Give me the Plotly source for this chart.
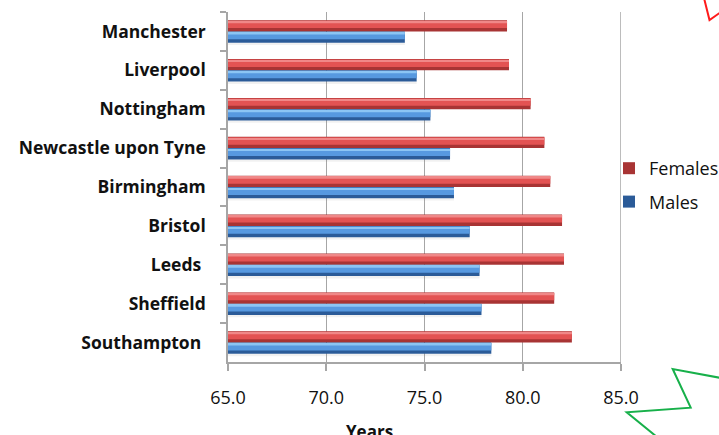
import plotly.graph_objects as go

# Life expectancy at birth by city (years)
cities = ["Manchester", "Liverpool", "Nottingham", "Newcastle upon Tyne",
          "Birmingham", "Bristol", "Leeds\u00a0", "Sheffield", "Southampton\u00a0"]
females = [79.2, 79.3, 80.4, 81.1, 81.4, 82.0, 82.1, 81.6, 82.5]
males = [74.0, 74.6, 75.3, 76.3, 76.5, 77.3, 77.8, 77.9, 78.4]
x_ticks = [65, 70, 75, 80, 85]
x_tick_labels = ["65.0", "70.0", "75.0", "80.0", "85.0"]

W, H = 719, 435
L, R, T, B = 228, 98, 12, 73
PW, PH = W - L - R, H - T - B


def px(x, y):
    """Pixel position on the page -> paper coordinates."""
    return (x - L) / PW, (H - B - y) / PH


fig = go.Figure()

BAR = 0.29  # thickness of one bar, in category units


def bevel_bar(name, values, top, colors, legend):
    """Draw a bar as stacked bands so it reads as a rounded, lit bar."""
    dark, mid, light = colors
    bands = [
        (top, BAR, dark),
        (top + 0.012, BAR * 0.66, mid),
        (top + 0.03, BAR * 0.16, light),
    ]
    for i, (off, w, c) in enumerate(bands):
        fig.add_trace(go.Bar(
            y=cities, x=values, base=65, orientation="h",
            offset=off, width=w,
            marker=dict(color=c, line=dict(width=0)),
            name=name, legendgroup=name,
            showlegend=(legend and i == 0),
            hoverinfo="skip" if i else None,
        ))


# soft shadow under each male bar
fig.add_trace(go.Bar(
    y=cities, x=[v - 65 for v in males], base=65, orientation="h",
    offset=BAR, width=0.06,
    marker=dict(color="rgba(120,120,120,0.10)", line=dict(width=0)),
    showlegend=False, hoverinfo="skip",
))

bevel_bar("Females", [v - 65 for v in females], -BAR,
          ("#a83434", "#e35353", "#f08888"), True)
bevel_bar("Males", [v - 65 for v in males], 0.0,
          ("#2b5b98", "#5799e0", "#8cc5f4"), True)

shapes = [
    # right-hand edge of the plot area
    dict(type="line", xref="x", yref="paper", x0=85, x1=85, y0=0, y1=1,
         line=dict(color="#a6a6a6", width=1.5)),
]

# red stroke at the top right corner
rx = [px(704, -2), px(709.5, 20), px(721, 12)]
shapes.append(dict(
    type="path", xref="paper", yref="paper",
    path="M {} {} L {} {} L {} {}".format(*[c for p in rx for c in p]),
    line=dict(color="#ff1a1a", width=2),
))
# green stroke at the bottom right corner
gx = [px(721, 378), px(672.7, 369), px(690.7, 407.7), px(626.7, 412.3), px(657, 437)]
shapes.append(dict(
    type="path", xref="paper", yref="paper",
    path="M {} {} L {} {} L {} {} L {} {} L {} {}".format(*[c for p in gx for c in p]),
    line=dict(color="#17b04a", width=2),
))

yx, yy = px(369, 418)
fig.update_layout(
    width=W, height=H,
    margin=dict(l=L, r=R, t=T, b=B, pad=0, autoexpand=False),
    paper_bgcolor="white", plot_bgcolor="white",
    barmode="overlay",
    font=dict(family="Open Sans, Lato, sans-serif", color="#111111"),
    showlegend=True,
    legend=dict(
        x=px(609, 0)[0], y=px(0, 150)[1], xanchor="left", yanchor="top",
        font=dict(size=18, color="#111111"),
        tracegroupgap=7, itemwidth=30,
        bgcolor="rgba(0,0,0,0)",
    ),
    xaxis=dict(
        range=[65, 85], tickmode="array", tickvals=x_ticks, ticktext=x_tick_labels,
        showgrid=True, gridcolor="#a6a6a6", gridwidth=1,
        showline=True, linecolor="#a6a6a6", linewidth=1.5,
        ticks="outside", ticklen=7, tickcolor="#a6a6a6", tickwidth=1.5,
        tickfont=dict(size=18, color="#111111"),
        ticklabelstandoff=12, zeroline=False, fixedrange=True,
    ),
    yaxis=dict(
        type="category", range=[8.5, -0.5],
        showgrid=False, showline=True, linecolor="#a6a6a6", linewidth=1.5,
        ticks="outside", ticklen=6, tickcolor="#a6a6a6", tickwidth=1.5,
        tickson="boundaries",
        tickfont=dict(size=17.5, color="#111111", weight="bold"),
        ticklabelstandoff=17, fixedrange=True,
    ),
    shapes=shapes,
    annotations=[dict(
        text="<b>Years</b>", xref="paper", yref="paper", x=yx, y=yy,
        xanchor="center", yanchor="top", showarrow=False,
        font=dict(size=17, color="#111111"),
    )],
)

fig.write_html("out.html")
